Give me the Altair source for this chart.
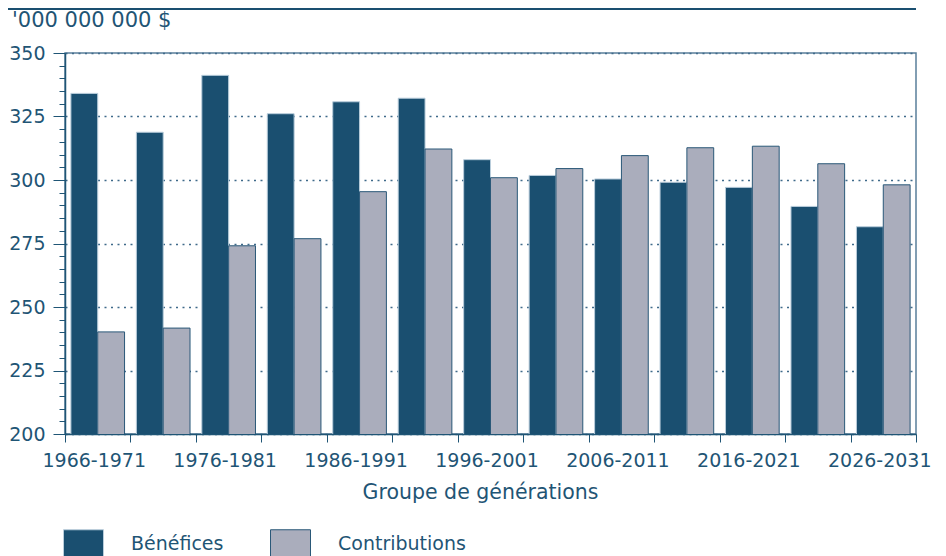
import altair as alt
import pandas as pd

groups = ["1966-1971", "1971-1976", "1976-1981", "1981-1986", "1986-1991",
          "1991-1996", "1996-2001", "2001-2006", "2006-2011", "2011-2016",
          "2016-2021", "2021-2026", "2026-2031"]
benefices = [334.1, 318.8, 341.2, 326.1, 330.8, 332.2, 308.0, 301.8, 300.4,
             299.1, 297.1, 289.6, 281.6]
contributions = [240.2, 241.7, 274.1, 276.9, 295.4, 312.2, 300.9, 304.5, 309.6,
                 312.7, 313.3, 306.4, 298.1]
series = ["Bénéfices", "Contributions"]
y_ticks = list(range(200, 351, 5))
unit_label = "'000 000 000 $"
x_title = "Groupe de générations"

rows = []
for g, b, c in zip(groups, benefices, contributions):
    rows.append({"groupe": g, "serie": series[0], "valeur": b})
    rows.append({"groupe": g, "serie": series[1], "valeur": c})
df = pd.DataFrame(rows)

TXT = "#1f5575"
DARK = "#1a4f70"
GREY = "#aaadbc"
FONT = "DejaVu Sans"

bars = alt.Chart(df).mark_bar(strokeWidth=1, clip=True).encode(
    x=alt.X("groupe:N", sort=groups,
            scale=alt.Scale(paddingInner=0, paddingOuter=0),
            axis=alt.Axis(title=x_title, tickBand="extent", labelAngle=0,
                          labelExpr="substring(datum.label, 3, 4) == '6' ? datum.label : ''",
                          labelOverlap=False, labelBound=False, labelOffset=-4,
                          tickSize=8, labelPadding=9, titlePadding=12,
                          titleFontSize=20.5,
                          titleX=415, grid=False,
                          domainColor=TXT, tickColor=TXT, domainWidth=1.5)),
    xOffset=alt.XOffset("serie:N", sort=series,
                        scale=alt.Scale(paddingInner=0, paddingOuter=0.22)),
    y=alt.Y("valeur:Q",
            scale=alt.Scale(domain=[200, 350], nice=False, zero=False),
            axis=alt.Axis(title=None, values=y_ticks,
                          labelExpr="datum.value % 25 == 0 ? datum.label : ''",
                          tickSize={"condition": {"test": "datum.value % 25 == 0", "value": 12}, "value": 6},
                          gridOpacity={"condition": {"test": "datum.value % 25 == 0", "value": 1}, "value": 0},
                          grid=True, gridDash=[2, 4.5], gridColor="#3f6a8a", gridWidth=1.6,
                          labelPadding=8, domainColor=TXT, tickColor=TXT, domainWidth=1.5)),
    color=alt.Color("serie:N", sort=series,
                    scale=alt.Scale(domain=series, range=[DARK, GREY]),
                    legend=alt.Legend(title=None, orient="none", legendX=-2, legendY=476,
                                      direction="horizontal", symbolType="square",
                                      symbolSize=1600, symbolStrokeWidth=1,
                                      labelOffset=27, columnPadding=44, padding=0,
                                      labelBaseline="alphabetic",
                                      labelFontSize=19, labelFont=FONT, labelColor=TXT)),
    stroke=alt.Stroke("serie:N", sort=series,
                      scale=alt.Scale(domain=series, range=["#b9cddb", "#2a5878"]),
                      legend=None),
)

unit = alt.Chart(pd.DataFrame({"t": [unit_label]})).mark_text(
    align="left", baseline="alphabetic", fontSize=21, font=FONT, color=TXT
).encode(x=alt.value(-53), y=alt.value(-26), text="t:N")

top_rule = alt.Chart(pd.DataFrame({"t": [0]})).mark_rule(
    color=DARK, strokeWidth=2
).encode(x=alt.value(-57), x2=alt.value(851), y=alt.value(-44))

chart = alt.layer(top_rule, unit, bars).properties(
    width=851, height=381,
    padding={"left": 57, "top": 45, "right": 22, "bottom": 122},
    autosize=alt.AutoSizeParams(type="none"),
).configure_view(
    stroke="#5a7f9a", strokeWidth=1.5
).configure_axis(
    labelFont=FONT, titleFont=FONT, labelFontSize=19, titleFontSize=19,
    labelColor=TXT, titleColor=TXT, titleFontWeight="normal"
)

chart.save("out.html", embed_options={"renderer": "svg", "actions": False})
